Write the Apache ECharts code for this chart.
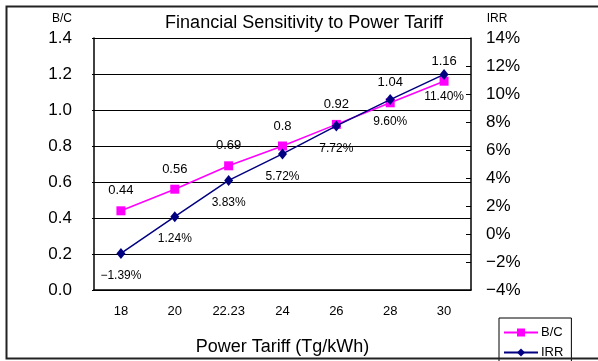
<!DOCTYPE html>
<html>
<head>
<meta charset="utf-8">
<script src="https://cdn.jsdelivr.net/npm/echarts@6/dist/echarts.min.js"></script>
<style>
  html, body { margin: 0; padding: 0; background: #fff; }
  #chart { width: 598px; height: 361px; }
</style>
</head>
<body>
<div id="chart"></div>
<script>
// Power tariff scenarios (Tg/kWh)
var tariffs = ['18', '20', '22.23', '24', '26', '28', '30'];
// Benefit / cost ratio at each tariff
var bcRatio = [0.44, 0.56, 0.69, 0.8, 0.92, 1.04, 1.16];
// Internal rate of return (%) at each tariff
var irrPct = [-1.39, 1.24, 3.83, 5.72, 7.72, 9.60, 11.40];

var FONT = 'Liberation Sans, Arial, sans-serif';

var chart = echarts.init(document.getElementById('chart'), null, { renderer: 'canvas' });

chart.setOption({
  animation: false,
  backgroundColor: '#ffffff',
  textStyle: { fontFamily: FONT, color: '#000' },
  grid: { left: 94, right: 127, top: 38, bottom: 64 },
  xAxis: {
    type: 'category',
    data: tariffs,
    boundaryGap: true,
    name: 'Power Tariff (Tg/kWh)',
    nameLocation: 'middle',
    nameGap: 48,
    nameTextStyle: { fontSize: 18, color: '#000', fontFamily: FONT },
    axisLine: { lineStyle: { color: '#000', width: 1.5 } },
    axisTick: { inside: true, length: 4, lineStyle: { color: '#000' } },
    axisLabel: { fontSize: 13, color: '#000', margin: 15, fontFamily: FONT }
  },
  yAxis: [
    {
      type: 'value',
      min: 0, max: 1.4, interval: 0.2,
      axisLine: { show: true, lineStyle: { color: '#000', width: 1.5 } },
      axisTick: { show: true, length: 2, lineStyle: { color: '#000' } },
      axisLabel: {
        fontSize: 17, color: '#000', margin: 22, fontFamily: FONT,
        formatter: function (v) { return v.toFixed(1); }
      },
      splitLine: { show: true, lineStyle: { color: '#000', width: 1 } }
    },
    {
      type: 'value',
      min: -4, max: 14, interval: 2,
      position: 'right',
      axisLine: { show: true, lineStyle: { color: '#000', width: 1.5 } },
      axisTick: { show: true, inside: true, length: 5, lineStyle: { color: '#000' } },
      axisLabel: {
        fontSize: 17, color: '#000', margin: 15, fontFamily: FONT,
        formatter: function (v) { return (v < 0 ? '\u2212' + Math.abs(v) : v) + '%'; }
      },
      splitLine: { show: false }
    }
  ],
  legend: {
    orient: 'vertical',
    left: 499, top: 318, height: 50,
    itemWidth: 34, itemHeight: 10, itemGap: 7,
    padding: [8, 8, 10, 4],
    borderColor: '#000', borderWidth: 1,
    backgroundColor: '#fff',
    textStyle: { fontSize: 13, color: '#000', fontFamily: FONT, padding: [0, 0, 0, -2] },
    data: ['B/C', 'IRR']
  },
  series: [
    {
      name: 'B/C',
      type: 'line',
      yAxisIndex: 0,
      data: bcRatio,
      symbol: 'rect',
      symbolSize: 9,
      itemStyle: { color: '#ff00ff' },
      lineStyle: { color: '#ff00ff', width: 1.5 },
      label: {
        show: true, position: 'top', distance: 9,
        fontSize: 13, color: '#000', fontFamily: FONT
      },
      z: 3
    },
    {
      name: 'IRR',
      type: 'line',
      yAxisIndex: 1,
      data: irrPct,
      symbol: 'diamond',
      symbolSize: [9, 11],
      itemStyle: { color: '#000080' },
      lineStyle: { color: '#000080', width: 1.5 },
      label: {
        show: true, position: 'bottom', distance: 11,
        fontSize: 12, color: '#000', fontFamily: FONT,
        formatter: function (p) {
          var v = p.value;
          return (v < 0 ? '\u2212' + Math.abs(v).toFixed(2) : v.toFixed(2)) + '%';
        }
      },
      z: 4
    }
  ],
  graphic: [
    {
      type: 'text', x: 304, y: 23,
      style: {
        text: 'Financial Sensitivity to Power Tariff',
        font: '18px ' + FONT, fill: '#000', align: 'center', verticalAlign: 'middle'
      },
      z: 10
    },
    {
      type: 'text', x: 62, y: 19,
      style: { text: 'B/C', font: '12px ' + FONT, fill: '#000', align: 'center', verticalAlign: 'middle' },
      z: 10
    },
    {
      type: 'text', x: 497, y: 19,
      style: { text: 'IRR', font: '12px ' + FONT, fill: '#000', align: 'center', verticalAlign: 'middle' },
      z: 10
    },
    {
      type: 'rect',
      shape: { x: 6.5, y: 6.5, width: 610, height: 352 },
      style: { fill: 'none', stroke: '#222', lineWidth: 2 },
      z: 20, silent: true
    }
  ]
});
</script>
</body>
</html>
